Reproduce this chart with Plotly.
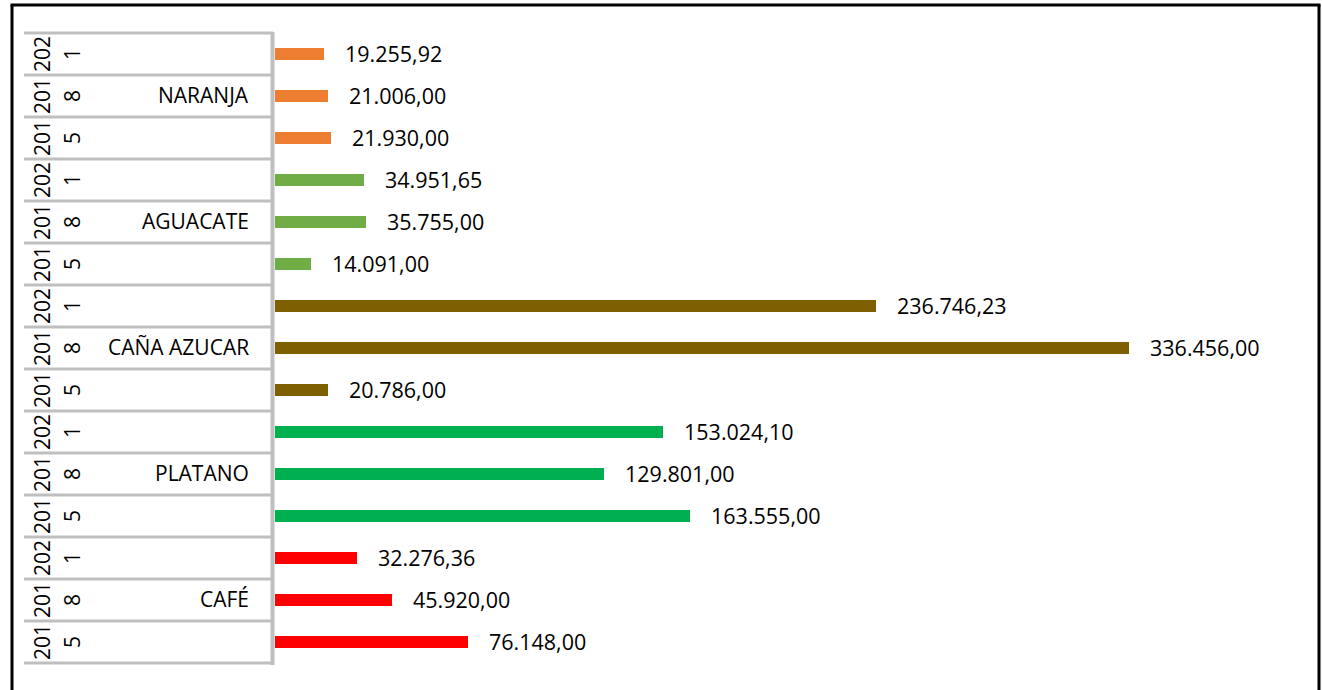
import plotly.graph_objects as go

# ---- data (bottom row first) ----
crops = ["CAFÉ", "PLATANO", "CAÑA AZUCAR", "AGUACATE", "NARANJA"]
years = ["2015", "2018", "2021"]
cafe = [76148.00, 45920.00, 32276.36]
platano = [163555.00, 129801.00, 153024.10]
cana = [20786.00, 336456.00, 236746.23]
aguacate = [14091.00, 35755.00, 34951.65]
naranja = [21930.00, 21006.00, 19255.92]
series = [cafe, platano, cana, aguacate, naranja]
colors = ["#FF0000", "#00B050", "#7F6000", "#70AD47", "#ED7D31"]

# ---- layout constants (pixels) ----
W_FIG, H_FIG = 1322, 690
M_L, M_R, M_T, M_B = 275, 32, 33, 27
PW = W_FIG - M_L - M_R
PH = H_FIG - M_T - M_B
N_ROWS = len(crops) * len(years)


def px_x(p):
    return (p - M_L) / PW


def px_y(p):
    return (H_FIG - M_B - p) / PH


def fmt_es(v):
    s = f"{v:,.2f}"
    return s.replace(",", "X").replace(".", ",").replace("X", ".")


fig = go.Figure()
annotations = []
for ci, (crop, vals, col) in enumerate(zip(crops, series, colors)):
    ys = [ci * len(years) + yi for yi in range(len(years))]
    fig.add_trace(go.Bar(
        x=vals, y=ys, orientation="h", width=0.3,
        marker=dict(color=col, line=dict(width=0)),
        name=crop, showlegend=False, hoverinfo="x+name",
    ))
    for y, v in zip(ys, vals):
        annotations.append(dict(
            x=v, y=y, xref="x", yref="y", text=fmt_es(v), showarrow=False,
            xanchor="left", yanchor="middle", xshift=19, yshift=1,
            font=dict(family="Open Sans", size=21.5, color="#000000"),
        ))
    annotations.append(dict(
        x=px_x(251), y=ci * len(years) + 1, xref="paper", yref="y",
        text=crop, showarrow=False, xanchor="right", yanchor="middle", yshift=1,
        font=dict(family="Open Sans", size=21, color="#000000"),
    ))
    for yi, yr in enumerate(years):
        y = ci * len(years) + yi
        annotations.append(dict(
            x=px_x(42), y=y, xref="paper", yref="y", text=yr[:3],
            showarrow=False, textangle=-90, xanchor="center", yanchor="middle",
            font=dict(family="Open Sans", size=21, color="#000000"),
        ))
        annotations.append(dict(
            x=px_x(72), y=y, xref="paper", yref="y", text=yr[3:],
            showarrow=False, textangle=-90, xanchor="center", yanchor="middle",
            font=dict(family="Open Sans", size=21, color="#000000"),
        ))

shapes = []
for k in range(N_ROWS + 1):
    shapes.append(dict(
        type="line", xref="paper", yref="paper",
        x0=px_x(24), x1=px_x(273), y0=k / N_ROWS, y1=k / N_ROWS,
        line=dict(color="#BFBFBF", width=3),
    ))
shapes.append(dict(
    type="line", xref="paper", yref="paper",
    x0=px_x(272.5), x1=px_x(272.5), y0=px_y(665), y1=px_y(32),
    line=dict(color="#BFBFBF", width=4),
))
black = dict(color="#000000", width=3)
shapes.append(dict(type="line", xref="paper", yref="paper",
                   x0=px_x(12), x1=px_x(12), y0=px_y(5), y1=px_y(720), line=black))
shapes.append(dict(type="line", xref="paper", yref="paper",
                   x0=px_x(10.5), x1=px_x(1320.5), y0=px_y(5), y1=px_y(5), line=black))
shapes.append(dict(type="line", xref="paper", yref="paper",
                   x0=px_x(1319), x1=px_x(1319), y0=px_y(5), y1=px_y(720), line=black))

fig.update_layout(
    width=W_FIG, height=H_FIG,
    margin=dict(l=M_L, r=M_R, t=M_T, b=M_B, pad=0),
    paper_bgcolor="white", plot_bgcolor="white",
    xaxis=dict(range=[0, 400000], visible=False, showgrid=False, zeroline=False),
    yaxis=dict(range=[-0.5, N_ROWS - 0.5], visible=False, showgrid=False, zeroline=False),
    bargap=0, shapes=shapes, annotations=annotations,
    font=dict(family="Open Sans"),
)

fig.write_html(
    "out.html",
    config={"displayModeBar": False},
    post_script="document.body.style.margin='0';document.body.style.overflow='hidden';",
)
